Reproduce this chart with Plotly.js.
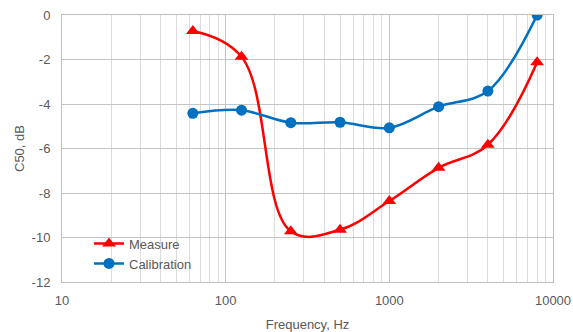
<!DOCTYPE html>
<html>
<head>
<meta charset="utf-8">
<script src="https://cdn.plot.ly/plotly-3.0.1.min.js"></script>
<style>html,body{margin:0;padding:0;background:#fff;}#chart{width:573px;height:332px;}</style>
</head>
<body>
<div id="chart"></div>
<script>
var frequencies = [63, 125, 250, 500, 1000, 2000, 4000, 8000];
var measure = [-0.72, -1.88, -9.72, -9.65, -8.36, -6.87, -5.83, -2.12];
var calibration = [-4.42, -4.28, -4.84, -4.82, -5.07, -4.12, -3.42, 0.0];
var yTicks = [0, -2, -4, -6, -8, -10, -12];
var xTicks = [10, 100, 1000, 10000];

var font = {family: 'Liberation Sans, Arial, sans-serif', size: 13, color: '#595959'};

var traces = [
  {x: frequencies, y: measure, name: 'Measure', type: 'scatter', mode: 'lines+markers',
   line: {color: '#ff0000', width: 2.5, shape: 'spline', smoothing: 1.1},
   marker: {symbol: 'triangle-up', size: 12, color: '#ff0000'}},
  {x: frequencies, y: calibration, name: 'Calibration', type: 'scatter', mode: 'lines+markers',
   line: {color: '#0070c0', width: 2.5, shape: 'spline', smoothing: 1},
   marker: {symbol: 'circle', size: 11, color: '#0070c0'}}
];

var layout = {
  width: 573, height: 332,
  margin: {l: 62, r: 20, t: 15, b: 50},
  paper_bgcolor: '#fff', plot_bgcolor: '#fff',
  font: font,
  showlegend: true,
  legend: {x: 0.055, y: 0.2, xanchor: 'left', yanchor: 'top', bgcolor: 'rgba(0,0,0,0)',
           font: font, itemwidth: 30, tracegroupgap: 0},
  xaxis: {
    type: 'log', range: [1, 4],
    tickvals: xTicks, ticktext: xTicks.map(String),
    showgrid: true, gridcolor: '#c4c4c4', gridwidth: 1,
    minor: {showgrid: true, gridcolor: '#dcdcdc', gridwidth: 1, dtick: 'D1'},
    showline: true, linecolor: '#bfbfbf', linewidth: 1, mirror: true,
    zeroline: false, ticks: '', ticklabelstandoff: 6,
    title: {text: 'Frequency, Hz', font: font, standoff: 14},
    tickfont: font
  },
  yaxis: {
    range: [-12, 0],
    tickvals: yTicks, ticktext: yTicks.map(String),
    showgrid: true, gridcolor: '#c4c4c4', gridwidth: 1,
    showline: true, linecolor: '#bfbfbf', linewidth: 1, mirror: true,
    zeroline: false, ticks: '', ticklabelstandoff: 8,
    title: {text: 'C50, dB', font: font, standoff: 4},
    tickfont: font
  }
};

Plotly.newPlot('chart', traces, layout, {displayModeBar: false, staticPlot: true});
</script>
</body>
</html>
